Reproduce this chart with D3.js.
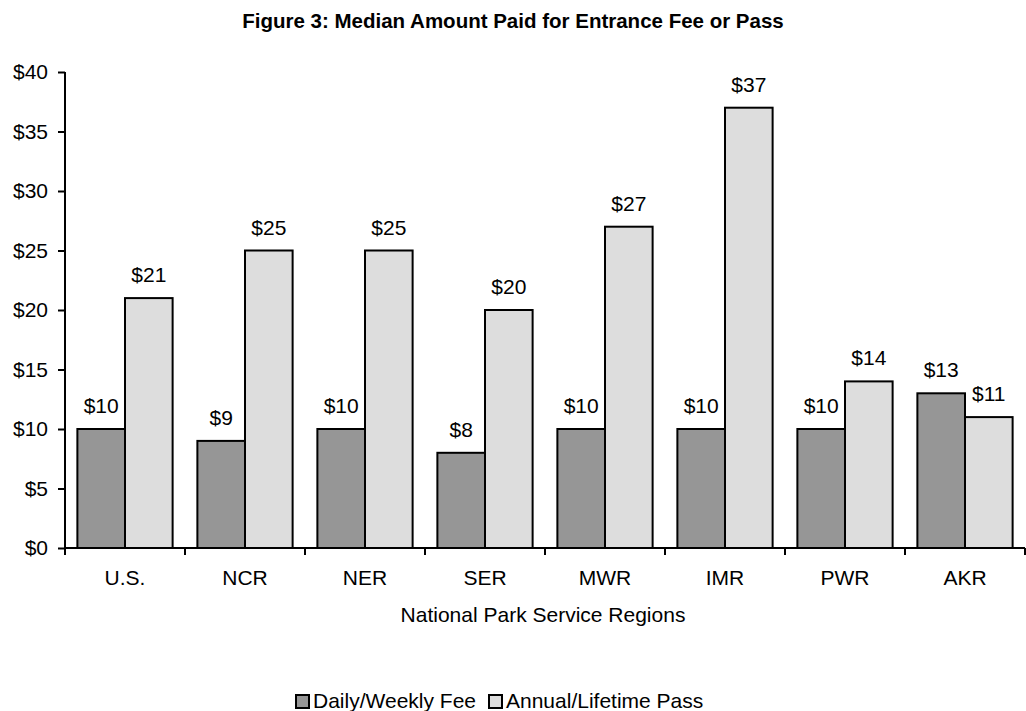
<!DOCTYPE html>
<html><head><meta charset="utf-8">
<script src="https://cdn.jsdelivr.net/npm/d3@7"></script>
<style>body{margin:0;background:#fff}svg{display:block;font-family:"Liberation Sans",Arial,sans-serif}</style>
</head><body><svg id="c" width="1026" height="711"></svg>
<script>
const categories = ["U.S.","NCR","NER","SER","MWR","IMR","PWR","AKR"];
const seriesNames = ["Daily/Weekly Fee","Annual/Lifetime Pass"];
const dailyWeekly = [10,9,10,8,10,10,10,13];
const annualLifetime = [21,25,25,20,27,37,14,11];
const yTicks = [0,5,10,15,20,25,30,35,40];
const colors = ["#969696","#dddddd"];

const svg = d3.select("#c");
const m = {l:65, r:1025, t:72, b:548};
const FS = 21;
const x = d3.scaleBand().domain(categories).range([m.l, m.r]);
const x1 = d3.scaleBand().domain([0,1]).range([0, x.bandwidth()]).paddingOuter(0.26).paddingInner(0);
const y = d3.scaleLinear().domain([0,40]).range([m.b, m.t]);

svg.append("text").attr("x",513).attr("y",28).attr("text-anchor","middle")
  .attr("font-weight","bold").attr("font-size",20.5).text("Figure 3: Median Amount Paid for Entrance Fee or Pass");

const data = categories.map((c,i)=>({c, v:[dailyWeekly[i], annualLifetime[i]]}));
const g = svg.append("g");
data.forEach(d=>{
  d.v.forEach((v,j)=>{
    g.append("rect").attr("x", x(d.c)+x1(j)).attr("y", y(v))
      .attr("width", x1.bandwidth()).attr("height", y(0)-y(v))
      .attr("fill", colors[j]).attr("stroke","#000").attr("stroke-width",2);
    g.append("text").attr("x", x(d.c)+x1(j)+x1.bandwidth()/2).attr("y", y(v)-16)
      .attr("text-anchor","middle").attr("font-size",FS).text("$"+v);
  });
});

const ya = svg.append("g").attr("transform",`translate(${m.l},0)`)
  .call(d3.axisLeft(y).tickValues(yTicks).tickFormat(d=>"$"+d).tickSize(7).tickPadding(10));
ya.select(".domain").attr("stroke-width",2).attr("d",`M0,${m.t}V${m.b}`);
ya.selectAll(".tick line").attr("stroke-width",2);
ya.selectAll("text").attr("font-size",FS).attr("font-family","Liberation Sans, Arial, sans-serif").attr("fill","#000");

const xa = svg.append("g").attr("transform",`translate(0,${m.b})`);
xa.append("path").attr("d",`M${m.l},0H${m.r}`).attr("stroke","#000").attr("stroke-width",2);
const bounds = categories.map(c=>x(c)).concat([m.r]);
xa.selectAll("line.t").data(bounds).join("line").attr("x1",d=>d).attr("x2",d=>d).attr("y1",0).attr("y2",7)
  .attr("stroke","#000").attr("stroke-width",2);
xa.selectAll("text").data(categories).join("text").attr("x",d=>x(d)+x.bandwidth()/2).attr("y",37)
  .attr("text-anchor","middle").attr("font-size",FS).text(d=>d);

svg.append("text").attr("x",543).attr("y",622).attr("text-anchor","middle").attr("font-size",FS).text("National Park Service Regions");

const lg = svg.append("g");
const lx = [295, 488];
seriesNames.forEach((s,j)=>{
  lg.append("rect").attr("x",lx[j]+1).attr("y",695).attr("width",13).attr("height",13)
    .attr("fill",colors[j]).attr("stroke","#000").attr("stroke-width",2);
  lg.append("text").attr("x",lx[j]+18).attr("y",708).attr("font-size",FS).text(s);
});
</script></body></html>
